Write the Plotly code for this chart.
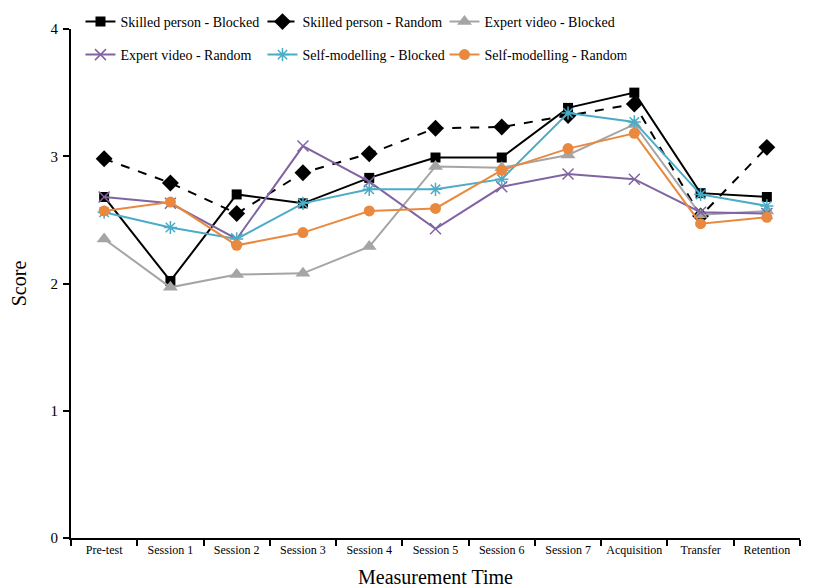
import plotly.graph_objects as go

categories = ["Pre-test", "Session 1", "Session 2", "Session 3", "Session 4", "Session 5",
              "Session 6", "Session 7", "Acquisition", "Transfer", "Retention"]

skilled_blocked = [2.68, 2.02, 2.70, 2.63, 2.83, 2.99, 2.99, 3.38, 3.50, 2.71, 2.68]
skilled_random = [2.98, 2.79, 2.55, 2.87, 3.02, 3.22, 3.23, 3.32, 3.41, 2.53, 3.07]
expert_blocked = [2.35, 1.97, 2.07, 2.08, 2.29, 2.92, 2.91, 3.01, 3.25, 2.54, 2.57]
expert_random = [2.68, 2.63, 2.35, 3.08, 2.80, 2.43, 2.76, 2.86, 2.82, 2.56, 2.55]
self_blocked = [2.56, 2.44, 2.35, 2.63, 2.74, 2.74, 2.82, 3.34, 3.27, 2.70, 2.61]
self_random = [2.57, 2.64, 2.30, 2.40, 2.57, 2.59, 2.89, 3.06, 3.18, 2.47, 2.52]

yticks = [0, 1, 2, 3, 4]

FONT = "Liberation Serif"

series = [
    ("Skilled person - Blocked", skilled_blocked, "#000000", "solid", "square", 10, 0, "legend"),
    ("Skilled person - Random", skilled_random, "#000000", "dash", "diamond", 13, 0, "legend"),
    ("Expert video - Blocked", expert_blocked, "#A5A5A5", "solid", "triangle-up", 13, 0, "legend"),
    ("Expert video - Random", expert_random, "#8064A2", "solid", "x-thin-open", 11, 1.5, "legend2"),
    ("Self-modelling - Blocked", self_blocked, "#4BACC6", "solid", "asterisk-open", 11, 1.5, "legend2"),
    ("Self-modelling - Random", self_random, "#E8893F", "solid", "circle", 11, 0, "legend2"),
]

fig = go.Figure()
for name, vals, color, dash, sym, size, lw, leg in series:
    fig.add_trace(go.Scatter(
        x=categories, y=vals, name=name, mode="lines+markers",
        line=dict(color=color, width=2, dash=dash),
        marker=dict(symbol=sym, size=size, color=color,
                    line=dict(color=color, width=lw)),
        legend=leg,
    ))

W, H = 823, 580  # page body has an 8px margin

legend_common = dict(orientation="h", xanchor="left", yanchor="middle", yref="container",
                     entrywidth=137, entrywidthmode="pixels", bgcolor="rgba(0,0,0,0)",
                     font=dict(family=FONT, size=14))

fig.update_layout(
    width=W, height=H,
    paper_bgcolor="white", plot_bgcolor="white",
    margin=dict(l=63, r=31, t=21, b=50, autoexpand=False),
    font=dict(family=FONT, size=14, color="#000000"),
    legend=dict(x=0.013, y=1 - 14 / H, **legend_common),
    legend2=dict(x=0.013, y=1 - 47 / H, **legend_common),
    xaxis=dict(
        type="category", range=[-0.5, 10.5], tickson="boundaries",
        showline=True, linecolor="#000000", linewidth=2,
        ticks="outside", ticklen=6, tickwidth=2, tickcolor="#000000",
        showgrid=False, zeroline=False, tickangle=0,
        tickfont=dict(family=FONT, size=12),
        title=dict(text="Measurement Time", font=dict(family=FONT, size=20), standoff=14),
    ),
    yaxis=dict(
        range=[0, 4], tickvals=yticks,
        showline=True, linecolor="#000000", linewidth=2,
        ticks="outside", ticklen=6, tickwidth=2, tickcolor="#000000",
        showgrid=False, zeroline=False, ticklabelstandoff=2,
        tickfont=dict(family=FONT, size=15),
        title=dict(text="Score", font=dict(family=FONT, size=20), standoff=19),
    ),
)

fig.write_html("out.html")
